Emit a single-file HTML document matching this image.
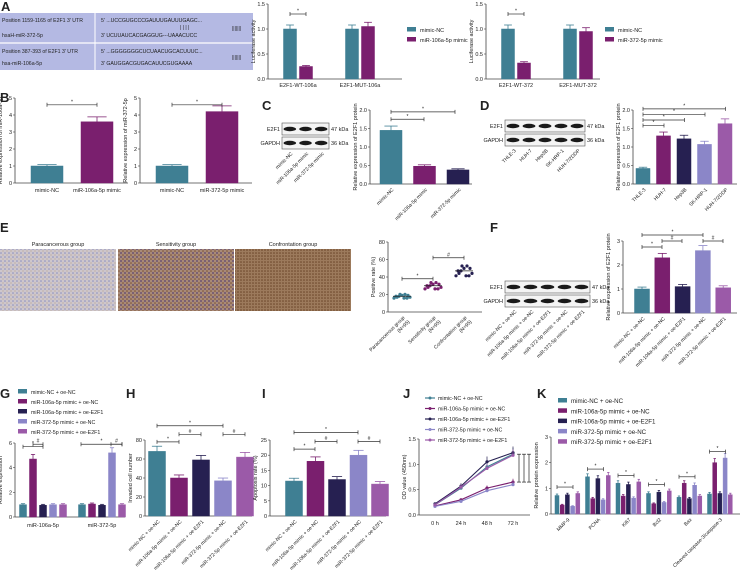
<!DOCTYPE html>
<html><head><meta charset="utf-8"><style>
html,body{margin:0;padding:0;background:#fff;}
svg{display:block;font-family:"Liberation Sans",sans-serif;}
</style></head><body>
<svg id="fig" width="740" height="579" viewBox="0 0 740 579" xmlns="http://www.w3.org/2000/svg">
<defs>
<pattern id="tex1" width="4" height="4" patternUnits="userSpaceOnUse"><rect width="4" height="4" fill="#cdc6cc"/><circle cx="1" cy="1" r="0.8" fill="#8a8fbf"/><circle cx="3" cy="3" r="0.6" fill="#b9a48e"/></pattern>
<pattern id="tex2" width="4" height="4" patternUnits="userSpaceOnUse"><rect width="4" height="4" fill="#a88a78"/><circle cx="1" cy="1" r="0.9" fill="#5b4370"/><circle cx="3" cy="3" r="0.8" fill="#7c5030"/></pattern>
<pattern id="tex3" width="3" height="3" patternUnits="userSpaceOnUse"><rect width="3" height="3" fill="#9c7a5c"/><circle cx="1" cy="1" r="0.8" fill="#6a4428"/></pattern>
</defs>
<g id="root"></g>
</svg>
<script>
// ---------- data ----------
const a1Groups=["E2F1-WT-106a","E2F1-MUT-106a"];
const a1NC=[1.0,1.0];
const a1Mimic=[0.25,1.05];
const a2Groups=["E2F1-WT-372","E2F1-MUT-372"];
const a2NC=[1.0,1.0];
const a2Mimic=[0.32,0.95];
const b1Cats=["mimic-NC","miR-106a-5p mimic"];
const b1Vals=[1.0,3.6];
const b2Cats=["mimic-NC","miR-372-5p mimic"];
const b2Vals=[1.0,4.2];
const cCats=["mimic-NC","miR-106a-5p mimic","miR-372-5p mimic"];
const cVals=[1.45,0.48,0.38];
const dCats=["THLE-3","HUH-7","Hep3B","SK-HRP-1","HUH-7/2DDP"];
const dVals=[0.42,1.3,1.22,1.07,1.63];
const eCats=["Paracancerous group","Sensitivity group","Confrontation group"];
const eMeans=[18,30,47];
const groups5=["mimic-NC + oe-NC","miR-106a-5p mimic + oe-NC","miR-106a-5p mimic + oe-E2F1","miR-372-5p mimic + oe-NC","miR-372-5p mimic + oe-E2F1"];
const fVals=[1.0,2.3,1.1,2.6,1.05];
const gCats=["miR-106a-5p","miR-372-5p"];
const gVals=[[1.0,4.7,0.95,1.0,1.0],[1.0,1.05,0.95,5.2,1.0]];
const hVals=[68,40,59,37,62];
const iVals=[11.5,18,12,20,10.5];
const jTimes=["0 h","24 h","48 h","72 h"];
const jSeries=[[0.2,0.53,0.95,1.2],[0.18,0.3,0.53,0.65],[0.22,0.57,1.05,1.23],[0.17,0.27,0.48,0.6],[0.2,0.55,0.92,1.18]];
const kCats=["MMP-9","PCNA","Ki67","Bcl2","Bax","Cleaved caspase-3/caspase-3"];
const kVals=[[0.72,0.35,0.75,0.3,0.8],[1.45,0.6,1.38,0.55,1.5],[1.2,0.7,1.15,0.62,1.25],[0.8,0.4,0.85,0.45,0.9],[0.65,1.2,0.6,1.12,0.7],[0.78,2.0,0.8,2.18,0.75]];

const COL=["#3f7f93","#7a1f6e","#262051","#8b86c8","#9b5aa8"];
const NS="http://www.w3.org/2000/svg";
const root=document.getElementById('root');
function mk(tag,attrs){const e=document.createElementNS(NS,tag);for(const k in attrs)e.setAttribute(k,attrs[k]);root.appendChild(e);return e;}
function txt(x,y,s,size,opts){opts=opts||{};const t=mk('text',{x:x,y:y,'font-size':size,fill:'#222'});
if(opts.anchor)t.setAttribute('text-anchor',opts.anchor);
if(opts.weight)t.setAttribute('font-weight',opts.weight);
if(opts.rot!==undefined)t.setAttribute('transform','rotate('+opts.rot+' '+x+' '+y+')');
t.textContent=s;


return t;}
function line(x1,y1,x2,y2,c,w){const l=mk('line',{x1:x1,y1:y1,x2:x2,y2:y2,stroke:c||'#333','stroke-width':w||0.8});


return l;}
function panel(x,y,s){txt(x,y,s,13,{weight:'bold',name:'panel-label-'+s});}
// axis: returns scale
function axis(x,x2,y0,y1,max,ticks,title,fmt){
  const ax=mk('g',{});
  
  
  line(x,y0,x,y1,'#444',0.8);line(x,y0,x2,y0,'#444',0.8);
  const s=v=>y0-(v/max)*(y0-y1);
  ticks.forEach(t=>{line(x-2,s(t),x,s(t),'#444',0.6);txt(x-3,s(t)+2,fmt?t.toFixed(fmt):String(t),5.5,{anchor:'end',name:'y-tick-label'});});
  if(title)txt(x-13,(y0+y1)/2,title,5.5,{anchor:'middle',rot:-90,name:'y-axis-title'});
  return s;}
function bar(cx,w,v,s,y0,c){
  const e=Math.max(v*0.08,0.02*(y0-s(1))/((y0-s(1))||1));
  const r=mk('rect',{x:cx-w/2,y:s(v),width:w,height:y0-s(v),fill:c,stroke:c,'stroke-width':0.5});
  
  
  line(cx,s(v),cx,s(v*1.08),c,0.8);line(cx-w*0.3,s(v*1.08),cx+w*0.3,s(v*1.08),c,0.8);
}
function bracket(x1,x2,y,sym){line(x1,y,x2,y,'#333',0.7);line(x1,y-2,x1,y+2,'#333',0.7);line(x2,y-2,x2,y+2,'#333',0.7);txt((x1+x2)/2,y-1.5,sym||'*',5,{anchor:'middle',name:'significance-mark'});}
function legend(x,y,labels,size,dy,line2){labels.forEach((l,i)=>{
  if(line2){line(x,y+i*dy-2,x+10,y+i*dy-2,COL[i],1.2);const c=mk('circle',{cx:x+5,cy:y+i*dy-2,r:1.5,fill:COL[i]});}
  else{const r=mk('rect',{x:x,y:y+i*dy-5,width:9,height:4.5,fill:COL[i]});}
  txt(x+13,y+i*dy,l,size,{name:'legend-entry'});});}
function blot(x,y,w,n,labels,faint){
  [0,1].forEach(r=>{const b=mk('rect',{x:x,y:y+r*14,width:w,height:12,fill:'#f4f4f4',stroke:'#555','stroke-width':0.6});
  for(let i=0;i<n;i++){const e=mk('ellipse',{cx:x+(i+0.5)*w/n,cy:y+r*14+6,rx:w/n*0.4,ry:2.2,fill:'#1a1a1a'});}});
  txt(x-2,y+8,'E2F1',5.5,{anchor:'end'});txt(x-2,y+22,'GAPDH',5.5,{anchor:'end'});
  txt(x+w+2,y+8,'47 kDa',5.5);txt(x+w+2,y+22,'36 kDa',5.5);
  labels.forEach((l,i)=>txt(x+(i+0.7)*w/n,y+31,l,5,{anchor:'end',rot:-45,name:'blot-lane-label'}));
}

// ---------- A ----------
panel(1,11,'A');
const tb=mk('rect',{x:0,y:13,width:253,height:57,fill:'#b4b9e3'});
line(95,13,95,70,'#fff',1);line(0,43,253,43,'#fff',1.2);
txt(2,22,"Position 1159-1165 of E2F1 3' UTR",5.2);txt(2,37,"hsaH-miR-372-5p",5.2);
txt(2,53,"Position 387-393 of E2F1 3' UTR",5.2);txt(2,65,"hsa-miR-106a-5p",5.2);
txt(101,22,"5'   ...UCCGUGCCCGAUUUGAUUUGAGC...",5.2);txt(101,37,"3'   UCUUAUCACGAGGUG---UAAACUCC",5.2);
txt(101,53,"5'   ...GGGGGGGCUCUAACUGCACUUUC...",5.2);txt(101,65,"3'          GAUGGACGUGACAUUCGUGAAAA",5.2);
txt(180,29,"| | | |",5,{});txt(232,30,"|||||||",5);txt(232,59,"|||||||",5);
function lucChart(x0,x2,groups,nc,mim,leg){
  const s=axis(x0,x2,79,4,1.5,[0,0.5,1.0,1.5],'Luciferase activity',1);
  groups.forEach((g,i)=>{const c=x0+30+i*62;bar(c-8,13,nc[i],s,79,COL[0]);bar(c+8,13,mim[i],s,79,COL[1]);txt(c,87,g,5.5,{anchor:'middle',name:'x-tick-label'});});
  bracket(x0+22,x0+38,s(1.3),'*');
  legend(x2+5,32,leg,5.5,10);
}
lucChart(268,402,a1Groups,a1NC,a1Mimic,["mimic-NC","miR-106a-5p mimic"]);
lucChart(486,600,a2Groups,a2NC,a2Mimic,["mimic-NC","miR-372-5p mimic"]);

// ---------- B ----------
panel(0,102,'B');
function bChart(x0,x2,cats,vals,title){
  const s=axis(x0,x2,183,98,5,[0,1,2,3,4,5],title);
  cats.forEach((c,i)=>{const cx=x0+32+i*50;bar(cx,32,vals[i],s,183,COL[i]);txt(cx,192,c,5.5,{anchor:'middle',name:'x-tick-label'});});
  bracket(x0+32,x0+82,s(4.6),'*');
}
bChart(15,128,b1Cats,b1Vals,'Relative expression of miR-106a-5p');
bChart(140,252,b2Cats,b2Vals,'Relative expression of miR-372-5p');

// ---------- C ----------
panel(262,110,'C');
blot(282,123,47,3,["mimic-NC","miR-106a-5p mimic","miR-372-5p mimic"]);
(function(){const s=axis(370,472,184,110,2,[0,0.5,1.0,1.5,2.0],'Relative expression of E2F1 protein',1);
cCats.forEach((c,i)=>{const cx=391+i*33.5;bar(cx,22,cVals[i],s,184,COL[i]);txt(cx+3,190,c,5,{anchor:'end',rot:-45,name:'x-tick-label'});});
bracket(391,424,s(1.75),'*');bracket(391,455,s(1.95),'*');})();

// ---------- D ----------
panel(480,110,'D');
blot(505,120,80,5,dCats);
(function(){const s=axis(633,737,184,110,2,[0,0.5,1.0,1.5,2.0],'Relative expression of E2F1 protein',1);
dCats.forEach((c,i)=>{const cx=643+i*20.5;bar(cx,14,dVals[i],s,184,COL[i]);txt(cx+3,190,c,5,{anchor:'end',rot:-45,name:'x-tick-label'});});
[1.58,1.73,1.88,2.03].forEach((y,i)=>bracket(643,664+i*20.5,s(y),'*'));})();

// ---------- E ----------
panel(0,232,'E');
["Paracancerous group","Sensitivity group","Confrontation group"].forEach((n,i)=>{const x=[0,118,235][i];
  const r=mk('rect',{x:x,y:249,width:116,height:62,fill:'url(#tex'+(i+1)+')'});
  txt(x+58,246,n,5.5,{anchor:'middle'});});
(function(){const s=axis(388,482,312,242,80,[0,20,40,60,80],'Positive rate (%)');
const spread=[-8,-5,-3,0,3,5,8,-6,6,-2,2];
eCats.forEach((c,i)=>{const cx=402+i*31;
  spread.forEach((d,j)=>{const v=eMeans[i]+((j%5)-2)*(eMeans[i]*0.06);
    const p=mk('circle',{cx:cx+d,cy:s(v),r:1.6,fill:COL[i]});});
  line(cx-9,s(eMeans[i]),cx+9,s(eMeans[i]),'#222',0.8);
  txt(cx+3,318,c,5,{anchor:'end',rot:-45,name:'x-tick-label'});txt(cx+8,322,'(N=95)',5,{anchor:'end',rot:-45});});
bracket(402,433,s(38),'*');bracket(433,464,s(62),'#');})();

// ---------- F ----------
panel(490,232,'F');
blot(505,281,85,5,groups5);
(function(){const s=axis(623,737,313,241,3,[0,1,2,3],'Relative expression of E2F1 protein');
groups5.forEach((c,i)=>{const cx=642+i*20.3;bar(cx,15,fVals[i],s,313,COL[i]);txt(cx+3,319,c,5,{anchor:'end',rot:-45,name:'x-tick-label'});});
bracket(642,662,s(2.75),'*');bracket(662,682,s(3.0),'#');bracket(642,703,s(3.25),'*');bracket(703,723,s(3.0),'#');})();

// ---------- G ----------
panel(0,398,'G');
legend(18,394,groups5,5.3,10);
(function(){const s=axis(15,125,517,443,6,[0,2,4,6],'Relative expression');
gCats.forEach((g,gi)=>{const base=23+gi*59;gVals[gi].forEach((v,i)=>bar(base+i*10,7,v,s,517,COL[i]));txt(base+20,527,g,5.5,{anchor:'middle',name:'x-tick-label'});});
bracket(23,43,s(5.7),'*');bracket(33,43,s(5.9),'#');bracket(81,122,s(5.9),'*');bracket(111,122,s(5.9),'#');})();

// ---------- H ----------
panel(126,398,'H');
(function(){const s=axis(145,252,516,440,80,[0,20,40,60,80],'Invaded cell number');
groups5.forEach((c,i)=>{const cx=157+i*22;bar(cx,17,hVals[i],s,516,COL[i]);txt(cx+3,522,c,5,{anchor:'end',rot:-45,name:'x-tick-label'});});
bracket(157,179,s(78),'*');bracket(179,201,s(86),'#');bracket(157,223,s(95),'*');bracket(223,245,s(86),'#');})();

// ---------- I ----------
panel(262,398,'I');
(function(){const s=axis(270,386,516,440,25,[0,5,10,15,20,25],'Apoptosis rate (%)');
groups5.forEach((c,i)=>{const cx=294+i*21.5;bar(cx,17,iVals[i],s,516,COL[i]);txt(cx+3,522,c,5,{anchor:'end',rot:-45,name:'x-tick-label'});});
bracket(294,315,s(22),'*');bracket(315,337,s(24.5),'#');bracket(294,358,s(27.5),'*');bracket(358,380,s(24.5),'#');})();

// ---------- J ----------
panel(403,398,'J');
legend(425,400,groups5,5.3,10.5,true);
(function(){const s=axis(419,530,515,439,1.5,[0,0.5,1.0,1.5],'OD value (450nm)',1);
const xs=i=>435+i*26;
jTimes.forEach((t,i)=>txt(xs(i),525,t,5.5,{anchor:'middle',name:'x-tick-label'}));
jSeries.forEach((ser,si)=>{const pl=mk('polyline',{points:ser.map((v,i)=>xs(i)+','+s(v)).join(' '),fill:'none',stroke:COL[si],'stroke-width':1.1});
  
  ser.forEach((v,i)=>{const c=mk('circle',{cx:xs(i),cy:s(v),r:1.6,fill:COL[si]});line(xs(i),s(v),xs(i),s(v*1.1),COL[si],0.7);});});
[0,1,2].forEach(k=>{const x=519+k*5;line(x,s(jSeries[0][3]),x,s(jSeries[1][3]),'#222',0.7);line(x-2,s(jSeries[0][3]),x+2,s(jSeries[0][3]),'#222',0.7);line(x-2,s(jSeries[1][3]),x+2,s(jSeries[1][3]),'#222',0.7);});})();

// ---------- K ----------
panel(537,398,'K');
legend(558,403,groups5,6.2,10.3);
(function(){const s=axis(551,740,514,437,3,[0,1,2,3],'Relative protein expression');
kCats.forEach((c,gi)=>{const base=557+gi*30.5;kVals[gi].forEach((v,i)=>bar(base+i*5.2,4,v,s,514,COL[i]));
  txt(base+13,520,c,5,{anchor:'end',rot:-45,name:'x-tick-label'});
  const top=Math.max(...kVals[gi]);bracket(base,base+16,s(top+0.25),'*');});})();
</script>
</body></html>
